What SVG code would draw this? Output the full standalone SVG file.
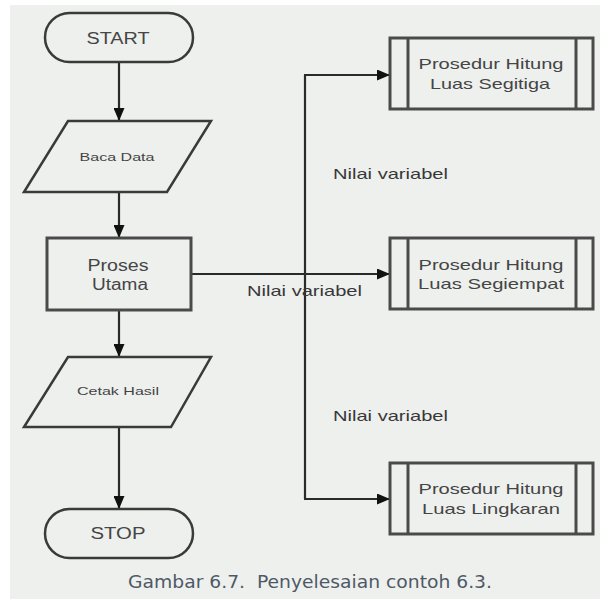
<svg xmlns="http://www.w3.org/2000/svg" width="600" height="599" viewBox="0 0 600 599">
<defs>
<style>
.shape{fill:none;stroke:#3a3a3a;stroke-width:2.5}
.box{fill:none;stroke:#4a4a4a;stroke-width:3}
.conn{fill:none;stroke:#2a2a2a;stroke-width:2.2}
.t{font-family:"Liberation Sans",Arial,sans-serif;fill:#454545;text-anchor:middle;dominant-baseline:central}
.lbl{font-family:"Liberation Sans",Arial,sans-serif;fill:#383838;font-size:15px;dominant-baseline:central}
.cap{font-family:"DejaVu Sans Condensed","DejaVu Sans",Verdana,sans-serif;fill:#4f5966;font-size:17px;white-space:pre}
</style>
<marker id="ah" markerUnits="userSpaceOnUse" markerWidth="13" markerHeight="11" refX="13" refY="5.5" orient="auto">
<path d="M0,0 L13,5.5 L0,11 z" fill="#111"/>
</marker>
</defs>
<rect x="0" y="0" width="600" height="599" fill="#ffffff"/>
<rect x="10" y="5" width="590" height="594" fill="#eef0ee"/>

<g id="connectors">
<line class="conn" x1="119" y1="62" x2="119" y2="121" marker-end="url(#ah)"/>
<line class="conn" x1="119" y1="193" x2="119" y2="238" marker-end="url(#ah)"/>
<line class="conn" x1="119" y1="310" x2="119" y2="357" marker-end="url(#ah)"/>
<line class="conn" x1="119" y1="427" x2="119" y2="509" marker-end="url(#ah)"/>
<line class="conn" x1="191" y1="274" x2="390" y2="274" marker-end="url(#ah)"/>
<line class="conn" x1="305" y1="75" x2="305" y2="499"/>
<line class="conn" x1="304" y1="75" x2="390" y2="75" marker-end="url(#ah)"/>
<line class="conn" x1="304" y1="499" x2="390" y2="499" marker-end="url(#ah)"/>
<text class="lbl" x="333" y="173" textLength="115" lengthAdjust="spacingAndGlyphs">Nilai variabel</text>
<text class="lbl" x="247" y="290" textLength="115" lengthAdjust="spacingAndGlyphs">Nilai variabel</text>
<text class="lbl" x="333" y="415" textLength="115" lengthAdjust="spacingAndGlyphs">Nilai variabel</text>
</g>

<g id="start">
<rect class="shape" x="45" y="13" width="148" height="49" rx="24.5"/>
<text class="t" x="118" y="38" font-size="16" textLength="63" lengthAdjust="spacingAndGlyphs">START</text>
</g>

<g id="baca-data">
<polygon class="shape" points="68,121 211,121 167,192 24,192"/>
<text class="t" x="117" y="157" font-size="11" textLength="75" lengthAdjust="spacingAndGlyphs">Baca Data</text>
</g>

<g id="proses-utama">
<rect class="box" x="47" y="238" width="144" height="72"/>
<text class="t" x="118" y="265" font-size="16" textLength="61" lengthAdjust="spacingAndGlyphs">Proses</text>
<text class="t" x="120" y="284" font-size="16" textLength="56" lengthAdjust="spacingAndGlyphs">Utama</text>
</g>

<g id="cetak-hasil">
<polygon class="shape" points="68,357 211,357 171,427 24,427"/>
<text class="t" x="118" y="391" font-size="11" textLength="82" lengthAdjust="spacingAndGlyphs">Cetak Hasil</text>
</g>

<g id="stop">
<rect class="shape" x="45" y="509" width="148" height="49" rx="24.5"/>
<text class="t" x="118" y="533" font-size="16" textLength="55" lengthAdjust="spacingAndGlyphs">STOP</text>
</g>

<g id="luas-segitiga">
<rect class="box" x="390" y="38" width="203" height="71"/>
<line class="box" x1="408" y1="38" x2="408" y2="109"/>
<line class="box" x1="576" y1="38" x2="576" y2="109"/>
<text class="t" x="491" y="63" font-size="15" textLength="145" lengthAdjust="spacingAndGlyphs">Prosedur Hitung</text>
<text class="t" x="490" y="83" font-size="15" textLength="120" lengthAdjust="spacingAndGlyphs">Luas Segitiga</text>
</g>

<g id="luas-segiempat">
<rect class="box" x="390" y="238" width="203" height="71"/>
<line class="box" x1="408" y1="238" x2="408" y2="309"/>
<line class="box" x1="576" y1="238" x2="576" y2="309"/>
<text class="t" x="491" y="264" font-size="15" textLength="145" lengthAdjust="spacingAndGlyphs">Prosedur Hitung</text>
<text class="t" x="491" y="283" font-size="15" textLength="146" lengthAdjust="spacingAndGlyphs">Luas Segiempat</text>
</g>

<g id="luas-lingkaran">
<rect class="box" x="390" y="463" width="203" height="71"/>
<line class="box" x1="408" y1="463" x2="408" y2="534"/>
<line class="box" x1="576" y1="463" x2="576" y2="534"/>
<text class="t" x="491" y="488" font-size="15" textLength="145" lengthAdjust="spacingAndGlyphs">Prosedur Hitung</text>
<text class="t" x="491" y="508" font-size="15" textLength="138" lengthAdjust="spacingAndGlyphs">Luas Lingkaran</text>
</g>

<text class="cap" x="128" y="588" textLength="364" lengthAdjust="spacingAndGlyphs" xml:space="preserve">Gambar 6.7.  Penyelesaian contoh 6.3.</text>
</svg>
